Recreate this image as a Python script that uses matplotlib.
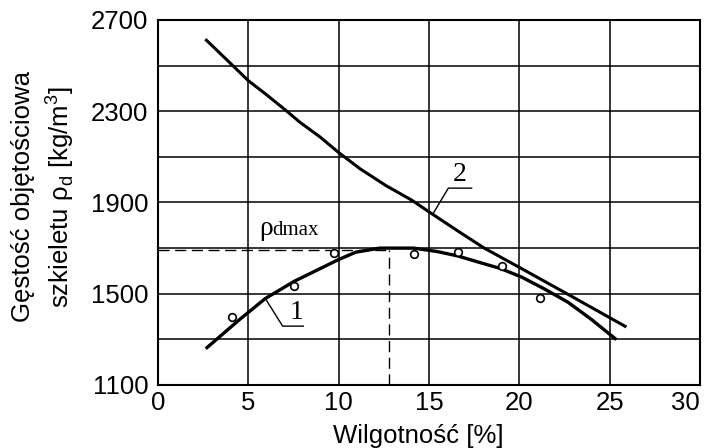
import matplotlib
matplotlib.use('Agg')
import matplotlib.pyplot as plt
import numpy as np

w_curve1 = [2.64, 4.53, 5.94, 7.55, 10.0, 10.94, 12.26, 14.15, 15.46, 16.57,
            17.68, 18.98, 20.13, 21.39, 22.69, 23.98, 25.37]
rho_curve1 = [1259, 1388, 1479, 1555, 1650, 1682, 1700, 1700, 1685, 1666,
              1640, 1610, 1573, 1521, 1463, 1388, 1299]

# measured points
w_meas = [4.11, 7.55, 9.72, 14.15, 16.61, 19.02, 21.15]
rho_meas = [1399, 1533, 1677, 1674, 1682, 1621, 1481]

# curve 2 - full saturation line
w_curve2 = [2.62, 3.67, 5.0, 5.95, 7.09, 7.85, 8.99, 10.0, 11.2, 12.62,
            14.05, 15.0, 16.6, 18.06, 20.13, 22.5, 25.93]
rho_curve2 = [2616, 2536, 2434, 2376, 2303, 2252, 2186, 2119, 2047, 1974,
              1910, 1859, 1775, 1700, 1610, 1506, 1354]

w_opt = 12.8
rho_dmax = 1690

x_ticks = [0, 5, 10, 15, 20, 25, 30]
y_ticks = [1100, 1500, 1900, 2300, 2700]
y_minor = [1300, 1700, 2100, 2500]

plt.rcParams['font.family'] = ['Liberation Sans', 'DejaVu Sans']
plt.rcParams['mathtext.fontset'] = 'custom'
plt.rcParams['mathtext.rm'] = 'Liberation Sans'

FS = 18.5

fig = plt.figure(figsize=(7.06, 4.48), dpi=100)
ax = fig.add_axes([158 / 706, 63 / 448, 542 / 706, 365 / 448])

ax.set_xlim(0, 30)
ax.set_ylim(1100, 2700)
ax.set_xticks(x_ticks)
ax.set_yticks(y_ticks)
ax.set_yticks(y_minor, minor=True)
ax.grid(True, which='both', color='black', linewidth=1.1)
ax.set_axisbelow(True)
ax.tick_params(which='both', length=0, labelsize=FS)
ax.tick_params(axis='x', pad=4)
ax.tick_params(axis='y', pad=7)
for sp in ax.spines.values():
    sp.set_linewidth(1.5)
# end label sits inside the frame like in the original
xlabels = ax.get_xticklabels()
xlabels[-1].set_ha('right')

# dashed optimum lines
ax.plot([0, w_opt], [rho_dmax, rho_dmax], color='black', lw=1.0,
        dashes=(8, 4), zorder=3)
ax.plot([w_opt, w_opt], [1100, rho_dmax], color='black', lw=1.0,
        dashes=(8, 4), zorder=3)

ax.plot(w_curve1, rho_curve1, color='black', lw=2.4, zorder=4,
        solid_capstyle='butt', solid_joinstyle='round')
ax.plot(w_curve2, rho_curve2, color='black', lw=2.2, zorder=4,
        solid_capstyle='butt', solid_joinstyle='round')
ax.plot(w_meas, rho_meas, linestyle='none', marker='o', markersize=5.5,
        markerfacecolor='white', markeredgecolor='black',
        markeredgewidth=1.2, zorder=5)

# leader lines and labels
ax.plot([5.94, 6.9, 8.04], [1479, 1358, 1358], color='black', lw=1.0, zorder=4)
ax.text(7.65, 1362, '1', family='Liberation Serif', fontsize=20,
        ha='center', va='bottom')
ax.plot([15.24, 16.07, 17.36], [1853, 1963, 1963], color='black', lw=1.0,
        zorder=4)
ax.text(16.7, 1967, '2', family='Liberation Serif', fontsize=20,
        ha='center', va='bottom')

ax.text(5.6, 1759, 'ρ', family='Liberation Serif', fontsize=20,
        ha='left', va='baseline')
ax.text(6.3, 1759, 'dmax', family='Liberation Serif', fontsize=15,
        ha='left', va='baseline')

fig.text(23 / 706, 1 - 197 / 448, 'Gęstość objętościowa', rotation=90,
         ha='center', va='center', fontsize=FS)
fig.text(60 / 706, 1 - 197 / 448, r'szkieletu ρ$_{\rm d}$ [kg/m$^{3}$]',
         rotation=90, ha='center', va='center', fontsize=FS)
fig.text(418 / 706, 1 - 436 / 448, 'Wilgotność [%]', ha='center',
         va='center', fontsize=FS)

fig.savefig('out.png', dpi=100)
